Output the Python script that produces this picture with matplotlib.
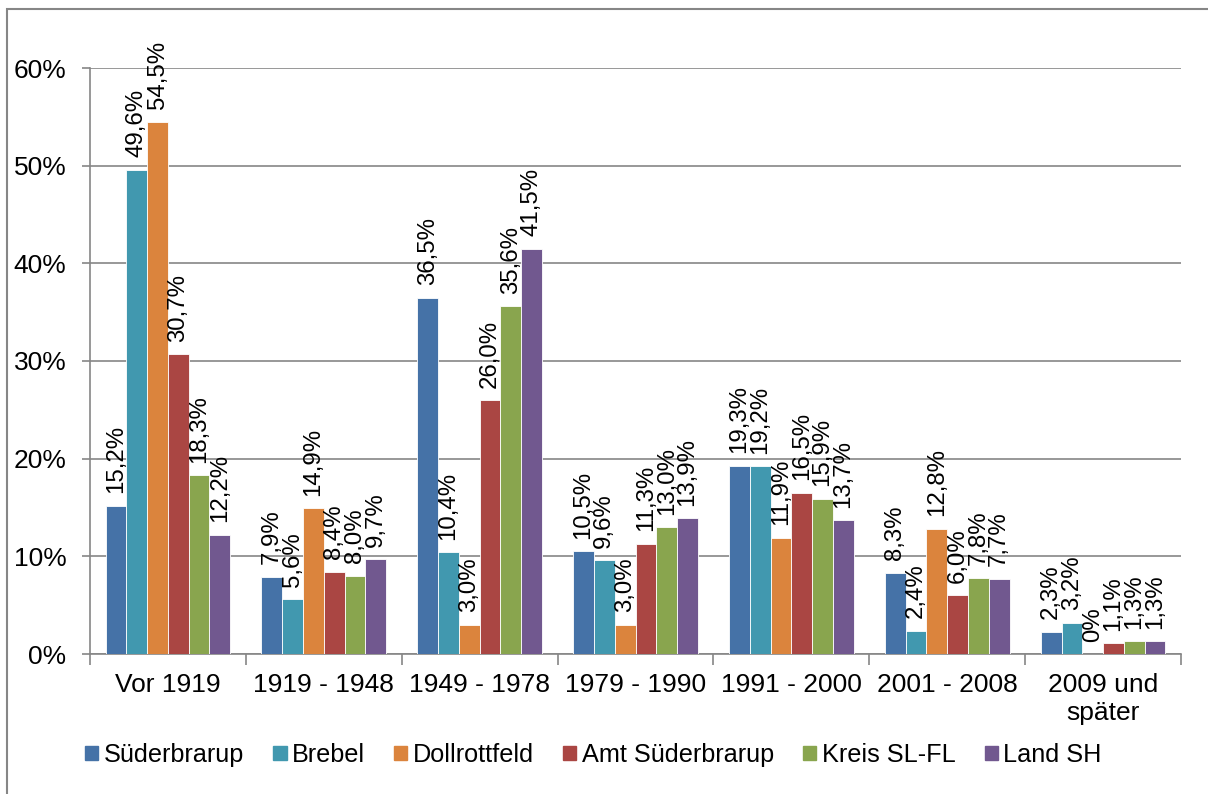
import numpy as np
import matplotlib.pyplot as plt
from matplotlib.patches import Rectangle

plt.rcParams['font.family'] = ['Liberation Sans', 'DejaVu Sans']

categories = ['Vor 1919', '1919 - 1948', '1949 - 1978', '1979 - 1990',
              '1991 - 2000', '2001 - 2008', '2009 und\nspäter']
series_names = ['Süderbrarup', 'Brebel', 'Dollrottfeld', 'Amt Süderbrarup',
                'Kreis SL-FL', 'Land SH']
suederbrarup = [15.2, 7.9, 36.5, 10.5, 19.3, 8.3, 2.3]
brebel = [49.6, 5.6, 10.4, 9.6, 19.2, 2.4, 3.2]
dollrottfeld = [54.5, 14.9, 3.0, 3.0, 11.9, 12.8, 0.0]
amt = [30.7, 8.4, 26.0, 11.3, 16.5, 6.0, 1.1]
kreis = [18.3, 8.0, 35.6, 13.0, 15.9, 7.8, 1.3]
land = [12.2, 9.7, 41.5, 13.9, 13.7, 7.7, 1.3]
series = [suederbrarup, brebel, dollrottfeld, amt, kreis, land]
colors = ['#4572A7', '#4198AF', '#DB843D', '#AA4643', '#89A54E', '#71588F']


def fmt(v):
    if v == 0:
        return '0%'
    return ('%.1f%%' % v).replace('.', ',')


fig = plt.figure(figsize=(12.08, 7.94), dpi=100)
ax = fig.add_axes([90 / 1208, 1 - 654 / 794, (1181 - 90) / 1208, (654 - 68) / 794])

n = len(series)
x = np.arange(len(categories))
group = 0.8
w = group / n
for i, (vals, c) in enumerate(zip(series, colors)):
    pos = x - group / 2 + w * (i + 0.5)
    ax.bar(pos, vals, width=w, color=c, edgecolor='white', linewidth=0.6, zorder=3)
    for p, v in zip(pos, vals):
        ax.annotate(fmt(v), (p, v), xytext=(0, 9), textcoords='offset points',
                    rotation=90, ha='center', va='bottom', fontsize=17.3,
                    zorder=4, annotation_clip=False)

ax.set_xlim(-0.5, len(categories) - 0.5)
ax.set_ylim(0, 60)
ax.set_yticks(np.arange(0, 61, 10))
ax.set_yticklabels(['%d%%' % t for t in range(0, 61, 10)], fontsize=19)
ax.yaxis.grid(True, color='#868686', linewidth=1.2, zorder=0)
ax.set_axisbelow(True)

ax.set_xticks(x)
ax.set_xticklabels(categories, fontsize=19, linespacing=1.18)
ax.set_xticks(np.arange(-0.5, len(categories), 1), minor=True)
ax.tick_params(axis='x', which='major', length=0, pad=14)
ax.tick_params(axis='x', which='minor', length=8, width=1.2, color='#868686')
ax.tick_params(axis='y', which='major', length=6, width=1.2, color='#868686', pad=11)

for s in ['top', 'right']:
    ax.spines[s].set_visible(False)
for s in ['left', 'bottom']:
    ax.spines[s].set_color('#868686')
    ax.spines[s].set_linewidth(1.2)

handles = [Rectangle((0, 0), 1, 1, color=c) for c in colors]
fig.legend(handles, series_names, loc='center', bbox_to_anchor=(593.5 / 1208, 1 - 755 / 794),
           ncol=6, frameon=False, fontsize=18.2, handlelength=0.52, handleheight=0.52,
           handletextpad=0.22, columnspacing=1.15, borderpad=0, borderaxespad=0)

fig.add_artist(Rectangle((7 / 1208, -0.05), 1.5, 1.05 - 9 / 794, transform=fig.transFigure,
                         fill=False, edgecolor='#868686', linewidth=1.5))

fig.savefig('out.png', dpi=100)
